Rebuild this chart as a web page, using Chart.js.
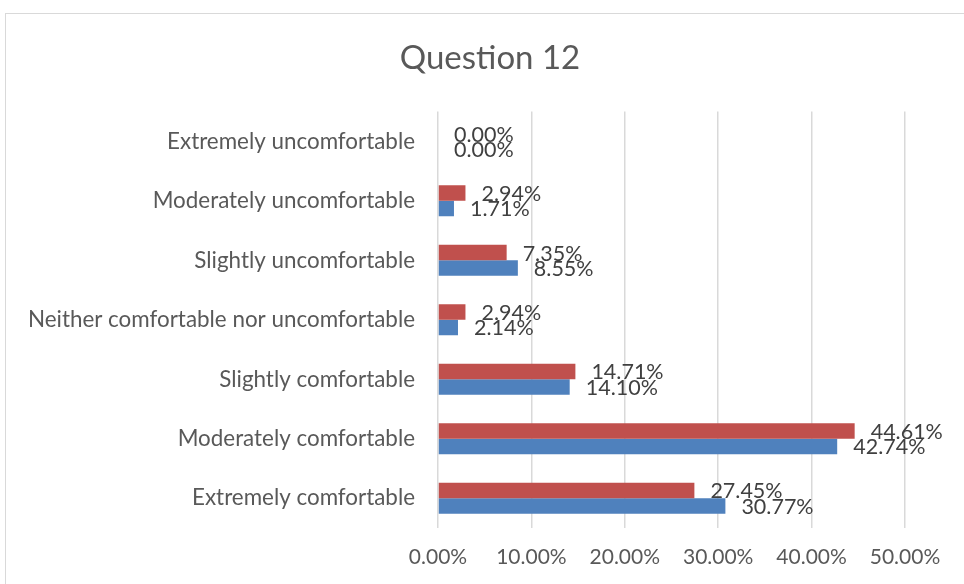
<!DOCTYPE html>
<html>
<head>
<meta charset="utf-8">
<script src="https://cdn.jsdelivr.net/npm/chart.js@4.4.1/dist/chart.umd.min.js"></script>
<style>
  html, body { margin: 0; padding: 0; background: #ffffff; }
  #wrap { position: relative; width: 964px; height: 584px; overflow: hidden; }
  #frame { position: absolute; left: 5px; top: 13px; width: 1200px; height: 800px; border: 1.5px solid #d9d9d9; box-sizing: border-box; }
  #c { position: absolute; left: 0; top: 0; }
</style>
</head>
<body>
<div id="wrap">
  <div id="frame"></div>
  <canvas id="c" width="964" height="584"></canvas>
</div>
<script>
const chartTitle = "Question 12";
const categories = [
  "Extremely uncomfortable",
  "Moderately uncomfortable",
  "Slightly uncomfortable",
  "Neither comfortable nor uncomfortable",
  "Slightly comfortable",
  "Moderately comfortable",
  "Extremely comfortable"
];
const seriesRed = [0.00, 2.94, 7.35, 2.94, 14.71, 44.61, 27.45];
const seriesBlue = [0.00, 1.71, 8.55, 2.14, 14.10, 42.74, 30.77];
const xTicks = [0, 10, 20, 30, 40, 50];

const FONT = "Lato, 'Open Sans', sans-serif";

const valueLabels = {
  id: 'valueLabels',
  afterDatasetsDraw(chart) {
    const ctx = chart.ctx;
    ctx.save();
    ctx.font = "21.5px " + FONT;
    ctx.fillStyle = "#404040";
    ctx.textAlign = "left";
    ctx.textBaseline = "middle";
    chart.data.datasets.forEach((ds, di) => {
      const meta = chart.getDatasetMeta(di);
      meta.data.forEach((el, i) => {
        ctx.fillText(ds.data[i].toFixed(2) + "%", el.x + 16, el.y + 1);
      });
    });
    ctx.restore();
  }
};

new Chart(document.getElementById('c'), {
  type: 'bar',
  data: {
    labels: categories,
    datasets: [
      { label: 'Series 2', data: seriesRed, backgroundColor: '#C0504D', borderWidth: 0 },
      { label: 'Series 1', data: seriesBlue, backgroundColor: '#4F81BD', borderWidth: 0 }
    ]
  },
  options: {
    indexAxis: 'y',
    responsive: false,
    animation: false,
    devicePixelRatio: 1,
    layout: { padding: { left: 16, right: 0, top: 0, bottom: 0 } },
    datasets: { bar: { categoryPercentage: 0.52, barPercentage: 1.0 } },
    plugins: {
      legend: { display: false },
      tooltip: { enabled: false },
      title: {
        display: true,
        text: chartTitle,
        color: '#595959',
        font: { family: FONT, size: 33, weight: 'normal' },
        padding: { top: 39, bottom: 33 }
      }
    },
    scales: {
      x: {
        min: 0, max: 50,
        afterBuildTicks: s => { s.ticks = xTicks.map(v => ({ value: v })); },
        afterFit: s => { s.height = 56; },
        grid: { color: '#d9d9d9', lineWidth: 1.5, drawTicks: false },
        border: { display: false },
        ticks: {
          color: '#595959',
          font: { family: FONT, size: 21 },
          padding: 17,
          callback: v => v.toFixed(2) + "%"
        }
      },
      y: {
        afterFit: s => { s.width = 422; },
        grid: { display: false, drawTicks: false },
        border: { display: false },
        ticks: {
          color: '#595959',
          font: { family: FONT, size: 22.4 },
          padding: 23
        }
      },
      yRight: {
        type: 'category',
        position: 'right',
        afterFit: s => { s.width = 59; },
        grid: { display: false, drawTicks: false },
        border: { display: false },
        ticks: { display: false }
      }
    }
  },
  plugins: [valueLabels]
});
</script>
</body>
</html>
